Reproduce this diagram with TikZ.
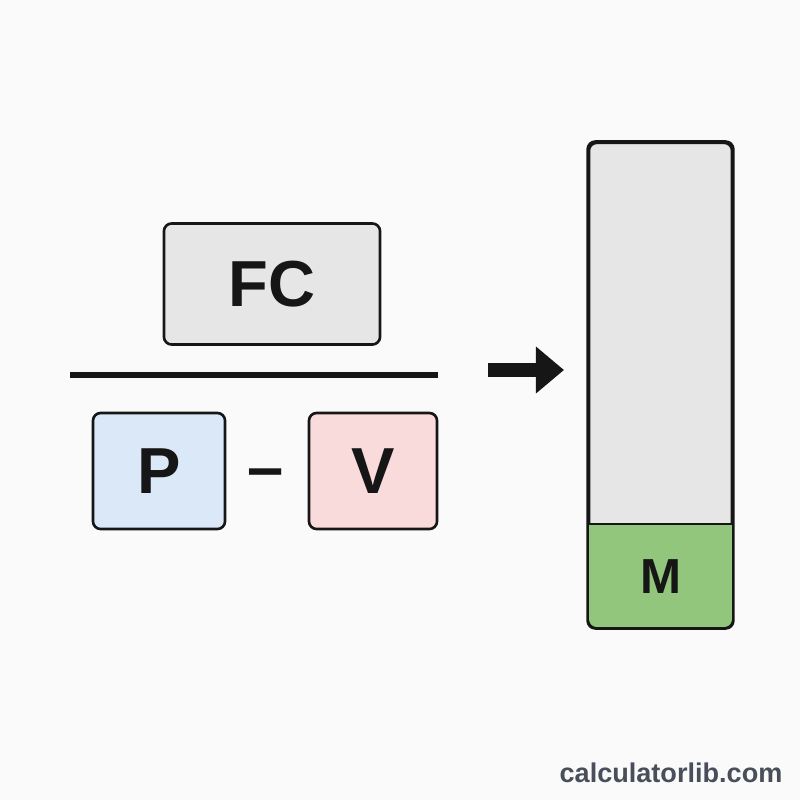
\documentclass[tikz,border=0pt]{standalone}
\usepackage{fontspec}
\setmainfont{Liberation Sans}
\usetikzlibrary{arrows.meta, positioning}

\definecolor{bgwhite}{RGB}{250,250,250}
\definecolor{fcgray}{RGB}{230,230,230}
\definecolor{pblue}{RGB}{219,232,248}
\definecolor{vpink}{RGB}{250,219,219}
\definecolor{mgreen}{RGB}{145,198,124}
\definecolor{inkdark}{RGB}{22,22,22}
\definecolor{markgray}{RGB}{72,78,90}

\begin{document}
\begin{tikzpicture}[
    x=0.01cm, y=-0.01cm,
    box/.style={draw=inkdark, line width=0.75pt, rounded corners=2.2pt,
                font=\fontsize{18.5}{18.5}\selectfont\bfseries, text=inkdark},
    >=Stealth
  ]

  % Background
  \fill[bgwhite] (0,0) rectangle (800,800);
  \useasboundingbox (0,0) rectangle (800,800);

  % Fraction: FC over (P - V)
  \node[box, fill=fcgray, minimum width=2.16cm, minimum height=1.21cm]
    (fc) at (272,284) {FC};
  \coordinate (fracl) at (70,375);
  \coordinate (fracr) at (438,375);
  \draw[line width=1.45pt, inkdark] (fracl) -- (fracr);

  \node[box, fill=pblue, minimum width=1.32cm, minimum height=1.16cm]
    (p) at (159,471) {P};
  \node[box, fill=vpink, minimum width=1.28cm, minimum height=1.16cm]
    (v) at (373,471) {V};
  \node[font=\fontsize{18.5}{18.5}\selectfont\bfseries, text=inkdark, inner sep=0pt]
    (minus) at (266,479) {–};

  % Arrow
  \coordinate (arrs) at (488,370);
  \coordinate (arre) at (564,370);
  \draw[line width=3.7pt, inkdark, -{Triangle[length=0.28cm, width=0.45cm]}]
    (arrs) -- (arre);

  % Result bar
  \node[draw=inkdark, line width=0.75pt, fill=fcgray, rounded corners=2.2pt,
        minimum width=1.43cm, minimum height=4.84cm] (bar) at (660.5,385) {};
  \fill[mgreen] (589,524) [rounded corners=2.2pt] -- (589,627) -- (732,627)
    [sharp corners] -- (732,524) -- cycle;
  \draw[inkdark, line width=0.75pt] (589,524) -- (732,524);
  \draw[inkdark, line width=0.75pt, rounded corners=2.2pt]
    (bar.south west) rectangle (bar.north east);
  \node[font=\fontsize{14}{14}\selectfont\bfseries, text=inkdark]
    (m) at (660.5,577) {M};

  % Watermark
  \node[font=\fontsize{7.7}{8}\selectfont\bfseries, text=markgray, inner sep=0pt]
    (mark) at (671,773) {calculatorlib.com};

\end{tikzpicture}
\end{document}
